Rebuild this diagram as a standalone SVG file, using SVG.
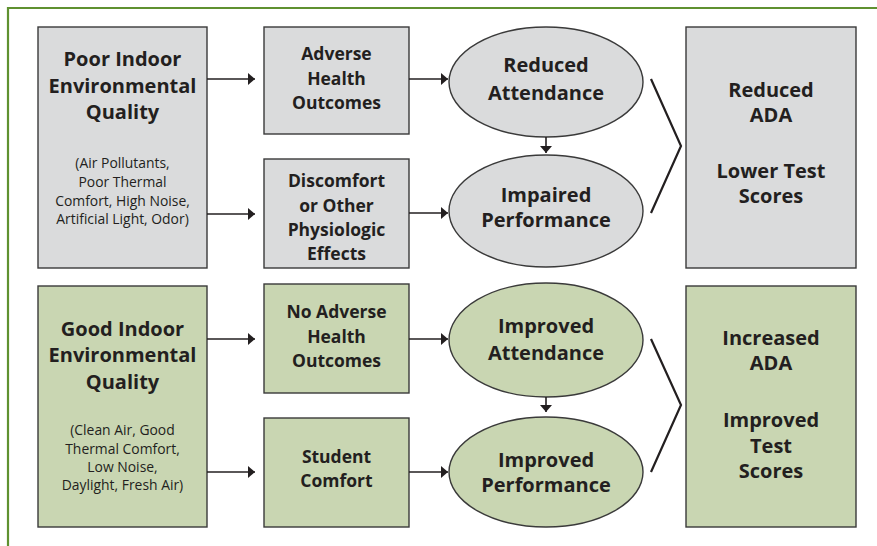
<svg xmlns="http://www.w3.org/2000/svg" width="877" height="546" viewBox="0 0 877 546">
<defs>
<style>
.g{fill:#dadbdc;stroke:#3a3a3a;stroke-width:1.4}
.v{fill:#c9d6b2;stroke:#3a3a3a;stroke-width:1.4}
text{font-family:"Open Sans","Liberation Sans",sans-serif;fill:#231f20;text-anchor:middle}
.h{font-size:20px;font-weight:bold}
.b{font-size:17.5px;font-weight:bold}
.s{font-size:13.9px}
.c line,.c polyline{stroke:#231f20;stroke-width:1.6;fill:none}
.c .br{stroke-width:2.2}
</style>
<marker id="ah" markerWidth="8" markerHeight="12" refX="7" refY="6" orient="auto" markerUnits="userSpaceOnUse">
<path d="M0,0 L7,6 L0,12 Z" fill="#231f20"/>
</marker>
</defs>
<rect width="877" height="546" fill="#fff"/>
<path d="M8,546 V8 H877" fill="none" stroke="#5f9130" stroke-width="2.2"/>

<g id="poor">
<rect class="g" x="38" y="27" width="169" height="241"/>
<text class="h" x="122.5" y="65.5">Poor Indoor</text>
<text class="h" x="122.5" y="92.5">Environmental</text>
<text class="h" x="122.5" y="119">Quality</text>
<text class="s" x="122.5" y="167.5">(Air Pollutants,</text>
<text class="s" x="122.5" y="186.5">Poor Thermal</text>
<text class="s" x="122.5" y="205.5">Comfort, High Noise,</text>
<text class="s" x="122.5" y="224">Artificial Light, Odor)</text>
</g>
<g id="adverse">
<rect class="g" x="264" y="27" width="145" height="107"/>
<text class="b" x="336.5" y="60">Adverse</text>
<text class="b" x="336.5" y="85">Health</text>
<text class="b" x="336.5" y="109">Outcomes</text>
</g>
<g id="discomfort">
<rect class="g" x="264" y="159" width="145" height="109"/>
<text class="b" x="336.5" y="187">Discomfort</text>
<text class="b" x="336.5" y="211.5">or Other</text>
<text class="b" x="336.5" y="235.5">Physiologic</text>
<text class="b" x="336.5" y="260">Effects</text>
</g>
<g id="reduced-attendance">
<ellipse class="g" cx="546" cy="82" rx="97" ry="55"/>
<text class="h" x="546" y="72">Reduced</text>
<text class="h" x="546" y="100">Attendance</text>
</g>
<g id="impaired-performance">
<ellipse class="g" cx="546" cy="211" rx="97" ry="56"/>
<text class="h" x="546" y="202">Impaired</text>
<text class="h" x="546" y="227">Performance</text>
</g>
<g id="reduced-ada">
<rect class="g" x="686" y="27" width="170" height="241"/>
<text class="h" x="771" y="97">Reduced</text>
<text class="h" x="771" y="122">ADA</text>
<text class="h" x="771" y="178">Lower Test</text>
<text class="h" x="771" y="203">Scores</text>
</g>

<g id="good">
<rect class="v" x="38" y="286" width="169" height="241"/>
<text class="h" x="122.5" y="335.5">Good Indoor</text>
<text class="h" x="122.5" y="362">Environmental</text>
<text class="h" x="122.5" y="389">Quality</text>
<text class="s" x="122.5" y="435">(Clean Air, Good</text>
<text class="s" x="122.5" y="453.5">Thermal Comfort,</text>
<text class="s" x="122.5" y="471.5">Low Noise,</text>
<text class="s" x="122.5" y="490">Daylight, Fresh Air)</text>
</g>
<g id="no-adverse">
<rect class="v" x="264" y="284" width="145" height="109"/>
<text class="b" x="336.5" y="318">No Adverse</text>
<text class="b" x="336.5" y="343">Health</text>
<text class="b" x="336.5" y="366.5">Outcomes</text>
</g>
<g id="student-comfort">
<rect class="v" x="264" y="418" width="145" height="109"/>
<text class="b" x="336.5" y="463">Student</text>
<text class="b" x="336.5" y="486.5">Comfort</text>
</g>
<g id="improved-attendance">
<ellipse class="v" cx="546" cy="340" rx="97" ry="57"/>
<text class="h" x="546" y="333">Improved</text>
<text class="h" x="546" y="360">Attendance</text>
</g>
<g id="improved-performance">
<ellipse class="v" cx="546" cy="472" rx="97" ry="55"/>
<text class="h" x="546" y="466.5">Improved</text>
<text class="h" x="546" y="491.5">Performance</text>
</g>
<g id="increased-ada">
<rect class="v" x="686" y="286" width="170" height="241"/>
<text class="h" x="771" y="345">Increased</text>
<text class="h" x="771" y="370">ADA</text>
<text class="h" x="771" y="427">Improved</text>
<text class="h" x="771" y="453">Test</text>
<text class="h" x="771" y="478">Scores</text>
</g>

<g id="connectors" class="c">
<line x1="207" y1="79" x2="255" y2="79" marker-end="url(#ah)"/>
<line x1="207" y1="214" x2="255" y2="214" marker-end="url(#ah)"/>
<line x1="409" y1="79" x2="448" y2="79" marker-end="url(#ah)"/>
<line x1="409" y1="213" x2="448" y2="213" marker-end="url(#ah)"/>
<line x1="546" y1="137" x2="546" y2="153" marker-end="url(#ah)"/>
<polyline class="br" points="651,79 681,146 651,213"/>
<line x1="207" y1="339" x2="255" y2="339" marker-end="url(#ah)"/>
<line x1="207" y1="472" x2="255" y2="472" marker-end="url(#ah)"/>
<line x1="409" y1="339" x2="448" y2="339" marker-end="url(#ah)"/>
<line x1="409" y1="472" x2="448" y2="472" marker-end="url(#ah)"/>
<line x1="546" y1="397" x2="546" y2="412" marker-end="url(#ah)"/>
<polyline class="br" points="651,339 681,405 651,472"/>
</g>
</svg>
